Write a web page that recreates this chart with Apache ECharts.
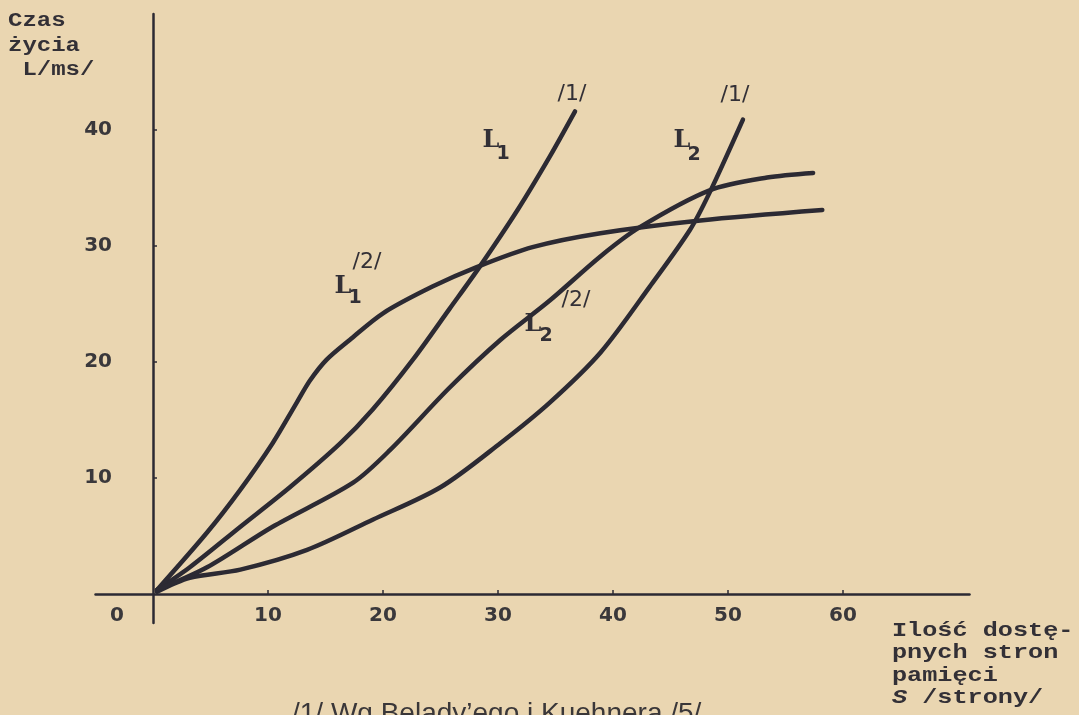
<!DOCTYPE html>
<html>
<head>
<meta charset="utf-8">
<script src="https://cdn.jsdelivr.net/npm/echarts@6/dist/echarts.min.js"></script>
<style>
html,body{margin:0;padding:0;background:#ead6b1;}
#chart{width:1079px;height:715px;}
</style>
</head>
<body>
<div id="chart"></div>
<script>
// ---- data (x = S pages, y = L ms) ----
const xTicks = [0, 10, 20, 30, 40, 50, 60];
const yTicks = [10, 20, 30, 40];

// L1 /1/ (Belady & Kuehner)
const l1Curve1 = [[0.35,0.35],[3.2,2.3],[7.6,5.8],[11.9,9.2],[16.3,13.0],[19.1,15.9],[22.6,20.2],[25.8,24.6],[28.4,28.2],[31.7,33.1],[34.5,37.7],[36.7,41.6]];
// L2 /1/
const l2Curve1 = [[0.35,0.2],[3.2,1.4],[7.6,2.1],[13.4,3.8],[19.1,6.4],[25.0,9.2],[30.2,13.0],[34.5,16.5],[38.9,20.8],[43.2,26.5],[46.7,31.4],[48.4,34.6],[51.3,40.9]];
// L1 /2/
const l1Curve2 = [[0.35,0.35],[4.7,5.3],[7.6,9.0],[10.4,13.0],[12.5,16.5],[13.65,18.4],[15.1,20.2],[17.1,21.9],[20.0,24.2],[24.3,26.5],[28.2,28.2],[33.0,29.9],[38.9,31.1],[47.6,32.2],[58.2,33.1]];
// L2 /2/
const l2Curve2 = [[0.35,0.35],[4.7,2.3],[10.4,5.8],[17.4,9.6],[20.6,12.4],[25.8,17.8],[30.2,21.9],[34.5,25.3],[38.9,29.1],[42.3,31.6],[48.4,34.8],[53.4,35.9],[57.4,36.3]];

const ink = '#2c2a33';
const txt = '#333036';
const mono = '"Liberation Mono","DejaVu Sans Mono",monospace';
const sans = '"DejaVu Sans","Noto Sans",sans-serif';

function curve(name, data) {
  return {
    name: name, type: 'line', data: data, smooth: 0.3, showSymbol: false, symbol: 'none',
    lineStyle: { color: ink, width: 4.5, cap: 'round', join: 'round' },
    z: 3
  };
}

const chart = echarts.init(document.getElementById('chart'), null, { renderer: 'canvas' });

function t(x, y, text, style) {
  return { type: 'text', x: x, y: y, style: Object.assign({ text: text, fill: txt, align: 'center', verticalAlign: 'middle' }, style) };
}

const labFont = 'bold 24px "DejaVu Serif",serif';
const subFont = 'bold 19px ' + sans;
const slashFont = '22px ' + sans;
const tickStyle = { color: '#3a383b', fontFamily: sans, fontWeight: 'bold', fontSize: 20 };

chart.setOption({
  backgroundColor: '#ead6b1',
  animation: false,
  grid: { left: 95.5, width: 874, top: 14, height: 609, containLabel: false },
  xAxis: {
    type: 'value', min: -5, max: 71,
    axisLine: { onZero: true, lineStyle: { color: ink, width: 2.5 } },
    axisTick: { show: true, inside: true, length: 4, customValues: [10,20,30,40,50,60], lineStyle: { color: ink, width: 1.5 } },
    axisLabel: Object.assign({
      customValues: xTicks, margin: -17,
      formatter: function (v) { return v === 0 ? '{z|0}' : String(v); },
      rich: { z: Object.assign({ padding: [0, 72, 0, 0] }, tickStyle) }
    }, tickStyle),
    splitLine: { show: false }
  },
  yAxis: {
    type: 'value', min: -2.5, max: 50,
    axisLine: { onZero: true, lineStyle: { color: ink, width: 2.5 } },
    axisTick: { show: true, inside: true, length: 4, customValues: yTicks, lineStyle: { color: ink, width: 1.5 } },
    axisLabel: Object.assign({ customValues: yTicks, margin: -16.5 }, tickStyle),
    splitLine: { show: false }
  },
  series: [
    curve('L1 /1/', l1Curve1),
    curve('L2 /1/', l2Curve1),
    curve('L1 /2/', l1Curve2),
    curve('L2 /2/', l2Curve2)
  ],
  graphic: [
    // y axis title
    { type: 'text', x: 8, y: 9, scaleX: 1.2, style: { text: 'Czas\nżycia\n L/ms/', font: 'bold 20px ' + mono, fill: txt, lineHeight: 24.5 } },
    // x axis title
    { type: 'text', x: 892, y: 619, scaleX: 1.2, style: { text: 'Ilość dostę-\npnych stron\npamięci\n{s|S} /strony/', font: 'bold 21px ' + mono, fill: txt, lineHeight: 22.5,
      rich: { s: { font: 'italic bold 21px ' + mono, fill: txt } } } },
    // caption
    { type: 'text', x: 292, y: 700, style: { text: '/1/ Wg Belady’ego i Kuehnera /5/', font: '28px "Liberation Sans",Arial,sans-serif', fill: '#3a3739' } },
    // curve labels
    t(572, 94, '/1/', { font: slashFont }),
    t(735, 95, '/1/', { font: slashFont }),
    t(491, 141, 'L', { font: labFont }),
    t(503, 154, '1', { font: subFont }),
    t(682, 141, 'L', { font: labFont }),
    t(694, 155, '2', { font: subFont }),
    t(367, 262, '/2/', { font: slashFont }),
    t(343, 287, 'L', { font: labFont }),
    t(355, 298, '1', { font: subFont }),
    t(576, 300, '/2/', { font: slashFont }),
    t(533, 325, 'L', { font: labFont }),
    t(546, 336, '2', { font: subFont })
  ]
});
</script>
</body>
</html>
